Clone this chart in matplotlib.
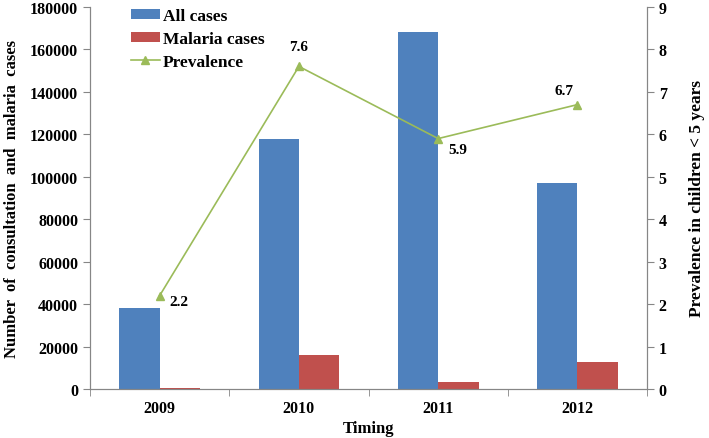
import numpy as np
import matplotlib.pyplot as plt

years = ["2009", "2010", "2011", "2012"]
all_cases = [38000, 118000, 168000, 97000]
malaria_cases = [600, 16000, 3100, 12800]
prevalence = [2.2, 7.6, 5.9, 6.7]

plt.rcParams['font.family'] = ['Liberation Serif', 'DejaVu Serif']
plt.rcParams['font.weight'] = 'bold'

fig = plt.figure(figsize=(7.09, 4.39), dpi=100)
ax = fig.add_axes([0.127, 0.1116, 0.7856, 0.8702])
ax2 = ax.twinx()

x = np.arange(len(years))
w = 0.29
ax.bar(x - w / 2, all_cases, w, color='#4F81BD', label='All cases', zorder=2)
ax.bar(x + w / 2, malaria_cases, w, color='#C0504D', label='Malaria cases', zorder=2)

ax2.plot(x, prevalence, color='#9BBB59', lw=1.2, marker='^', ms=6,
         label='Prevalence')

# value labels next to the markers
offsets = [(14, -4), (0, 14), (14, -8), (-10, 10)]
for xi, p, off in zip(x, prevalence, offsets):
    ax2.annotate(f"{p}", (xi, p), xytext=off, textcoords='offset points',
                 ha='center', va='center', fontsize=11, fontweight='bold')

ax.set_xlim(-0.5, 3.5)
ax.set_ylim(0, 180000)
ax2.set_ylim(0, 9)
ax.set_yticks(np.arange(0, 180001, 20000))
ax2.set_yticks(np.arange(0, 10, 1))
ax.set_xticks(x)
ax.set_xticklabels(years)
ax.set_xticks(np.arange(-0.5, 3.6, 1), minor=True)
ax.tick_params(axis='x', which='major', length=0, pad=8)
ax.tick_params(axis='x', which='minor', length=5, color='#868686')

for a in (ax, ax2):
    a.spines['top'].set_visible(False)
    for s in ('left', 'right', 'bottom'):
        a.spines[s].set_color('#868686')
    a.tick_params(axis='y', length=5, color='#868686', labelsize=11.5)
ax.tick_params(axis='x', labelsize=11.5)

ax.set_ylabel("Number  of  consultation  and  malaria  cases", fontsize=12,
              fontweight='bold', labelpad=7)
ax2.set_ylabel("Prevalence in children < 5 years", fontsize=12.5,
               fontweight='bold', labelpad=16)
ax.set_xlabel("Timing", fontsize=12, fontweight='bold', labelpad=3)

h1, l1 = ax.get_legend_handles_labels()
h2, l2 = ax2.get_legend_handles_labels()
ax.legend(h1 + h2, l1 + l2, loc='upper left', bbox_to_anchor=(0.045, 1.038),
          frameon=False, fontsize=12.5, handlelength=1.7, handleheight=0.5,
          labelspacing=0.4, handletextpad=0.15)

fig.savefig("out.png", dpi=100)
